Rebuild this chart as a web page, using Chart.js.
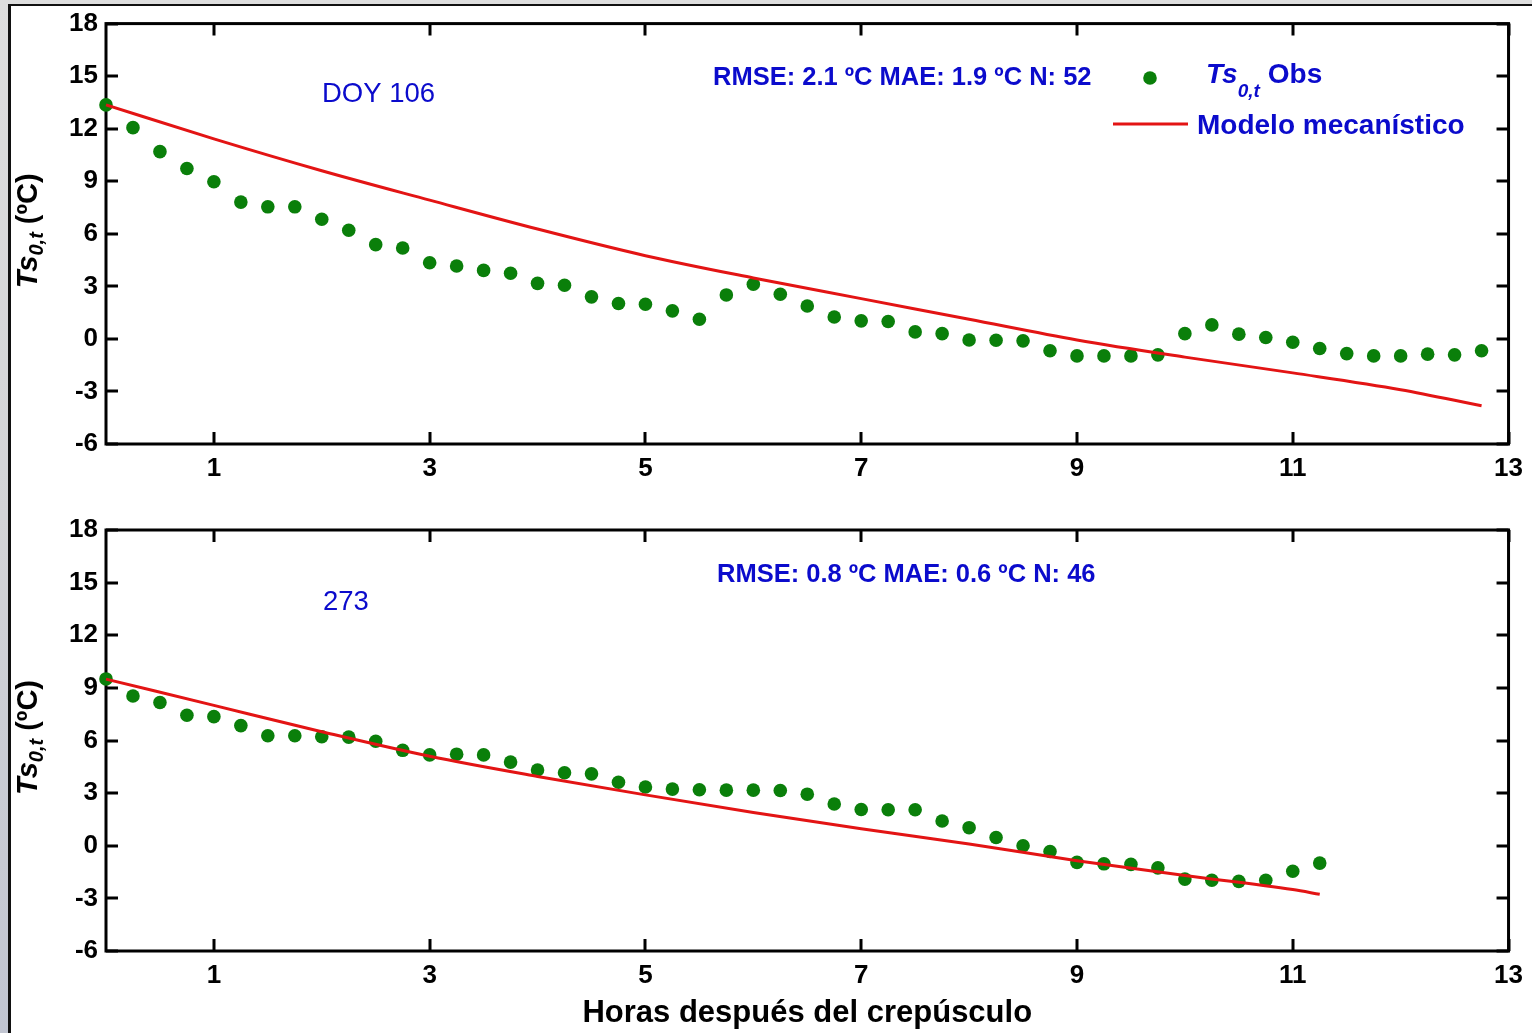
<!DOCTYPE html>
<html><head><meta charset="utf-8">
<script src="https://cdn.jsdelivr.net/npm/chart.js@4.4.1/dist/chart.umd.min.js"></script>
<style>
html,body{margin:0;padding:0;}
body{width:1532px;height:1033px;overflow:hidden;position:relative;background:linear-gradient(180deg,#dedede 0%,#d3d4d7 50%,#c1c5d1 100%);}
#frame{position:absolute;left:8px;top:4px;right:0;bottom:0;background:#fff;border-left:3px solid #111;border-top:2px solid #111;}
#w1{position:absolute;left:0;top:0;width:1532px;height:500px;}
#w2{position:absolute;left:0;top:500px;width:1532px;height:533px;}
canvas{display:block;}
</style></head><body>
<div id="frame"></div>
<div id="w1"><canvas id="c1" width="1532" height="500" style="width:1532px;height:500px"></canvas></div>
<div id="w2"><canvas id="c2" width="1532" height="533" style="width:1532px;height:533px"></canvas></div>
<script>
// ---------- DATA ----------
const xTickValues = [1, 3, 5, 7, 9, 11, 13];
const yTickValues = [-6, -3, 0, 3, 6, 9, 12, 15, 18];

// Panel 1 (DOY 106)
const obsHours106 = [0,0.25,0.5,0.75,1,1.25,1.5,1.75,2,2.25,2.5,2.75,3,3.25,3.5,3.75,4,4.25,4.5,4.75,5,5.25,5.5,5.75,6,6.25,6.5,6.75,7,7.25,7.5,7.75,8,8.25,8.5,8.75,9,9.25,9.5,9.75,10,10.25,10.5,10.75,11,11.25,11.5,11.75,12,12.25,12.5,12.75];
const obsTemp106 = [13.36,12.06,10.69,9.73,8.97,7.81,7.54,7.54,6.83,6.2,5.38,5.19,4.35,4.16,3.91,3.75,3.17,3.06,2.4,2.02,1.98,1.6,1.12,2.51,3.12,2.55,1.88,1.25,1.03,0.99,0.4,0.3,-0.06,-0.08,-0.11,-0.68,-0.97,-0.97,-0.97,-0.91,0.3,0.8,0.27,0.08,-0.19,-0.55,-0.84,-0.97,-0.97,-0.87,-0.91,-0.68];
const modelHours106 = [0,1,2,3,4,5,6,7,8,9,10,11,12,12.75];
const modelTemp106 = [13.36,11.42,9.6,7.92,6.27,4.75,3.48,2.3,1.12,-0.06,-1.04,-1.94,-2.9,-3.82];

// Panel 2 (273)
const obsHours273 = [0,0.25,0.5,0.75,1,1.25,1.5,1.75,2,2.25,2.5,2.75,3,3.25,3.5,3.75,4,4.25,4.5,4.75,5,5.25,5.5,5.75,6,6.25,6.5,6.75,7,7.25,7.5,7.75,8,8.25,8.5,8.75,9,9.25,9.5,9.75,10,10.25,10.5,10.75,11,11.25];
const obsTemp273 = [9.51,8.54,8.17,7.44,7.36,6.85,6.27,6.27,6.21,6.19,5.96,5.44,5.18,5.22,5.18,4.77,4.32,4.16,4.1,3.62,3.35,3.23,3.19,3.17,3.17,3.15,2.94,2.38,2.07,2.05,2.05,1.41,1.03,0.47,0,-0.33,-0.95,-1.03,-1.06,-1.26,-1.9,-1.97,-2.03,-1.97,-1.45,-0.99];
const modelHours273 = [0,1,2,3,4,5,6,7,8,9,10,11,11.25];
const modelTemp273 = [9.5,8.0,6.5,5.1,3.95,2.9,1.9,0.97,0.1,-0.85,-1.7,-2.5,-2.77];

const panelLabels = ["DOY 106", "273"];
const statsLabels = ["RMSE: 2.1 ºC MAE: 1.9 ºC N: 52", "RMSE: 0.8 ºC MAE: 0.6 ºC N: 46"];
const legendObs = ["Ts", "0,t", "Obs"];
const legendModel = "Modelo mecanístico";
const yTitleParts = ["Ts", "0,t", " (ºC)"];
const xTitle = "Horas después del crepúsculo";

// ---------- STYLE ----------
const F = '"Liberation Sans", Arial, Helvetica, sans-serif';
const GREEN = '#0a7f0a';
const RED = '#e31414';
const BLUE = '#0b0bcc';

function pts(xs, ys){ return xs.map((x,i)=>({x:x, y:ys[i]})); }

function drawRich(ctx, parts, x, y){
  let cx = x;
  parts.forEach(p=>{ ctx.font = p.font; ctx.fillText(p.t, cx, y + (p.dy||0)); cx += ctx.measureText(p.t).width + (p.gap||0); });
}
function richWidth(ctx, parts){
  let w = 0;
  parts.forEach(p=>{ ctx.font = p.font; w += ctx.measureText(p.t).width + (p.gap||0); });
  return w;
}

const framePlugin = {
  id: 'frameTicks',
  beforeDatasetsDraw(chart){
    const ctx = chart.ctx, a = chart.chartArea;
    const xs = chart.scales.x, ys = chart.scales.y;
    ctx.save();
    ctx.strokeStyle = '#000';
    ctx.lineWidth = 3;
    ctx.lineCap = 'butt';
    ctx.strokeRect(a.left, a.top, a.right - a.left, a.bottom - a.top);
    const L = 12;
    ctx.beginPath();
    xTickValues.forEach(v=>{
      const px = Math.round(xs.getPixelForValue(v));
      ctx.moveTo(px, a.bottom); ctx.lineTo(px, a.bottom - L);
      ctx.moveTo(px, a.top); ctx.lineTo(px, a.top + L);
    });
    yTickValues.forEach(v=>{
      const py = Math.round(ys.getPixelForValue(v));
      ctx.moveTo(a.left, py); ctx.lineTo(a.left + L, py);
      ctx.moveTo(a.right, py); ctx.lineTo(a.right - L, py);
    });
    ctx.stroke();
    ctx.restore();
  },
  afterDraw(chart){
    const ctx = chart.ctx, a = chart.chartArea;
    const o = chart.options.plugins.frameTicks;
    ctx.save();
    ctx.textBaseline = 'alphabetic';
    ctx.textAlign = 'left';
    // y title (rotated)
    ctx.fillStyle = '#000';
    const yparts = [
      {t: yTitleParts[0], font: 'italic bold 29px ' + F},
      {t: yTitleParts[1], font: 'italic bold 20px ' + F, dy: 6},
      {t: yTitleParts[2], font: 'bold 29px ' + F}
    ];
    const w = richWidth(ctx, yparts);
    ctx.save();
    ctx.translate(37, (a.top + a.bottom) / 2 - 3);
    ctx.rotate(-Math.PI / 2);
    drawRich(ctx, yparts, -w / 2, 0);
    ctx.restore();
    // panel label
    ctx.fillStyle = BLUE;
    ctx.font = '27.5px ' + F;
    ctx.fillText(o.label, o.labelX, o.labelY);
    // stats
    ctx.font = 'bold 25.5px ' + F;
    ctx.fillText(o.stats, o.statsX, o.statsY);
    if (o.legend) {
      // obs marker
      ctx.fillStyle = GREEN;
      ctx.beginPath(); ctx.arc(1150, 78, 6.8, 0, Math.PI * 2); ctx.fill();
      ctx.fillStyle = BLUE;
      drawRich(ctx, [
        {t: legendObs[0], font: 'italic bold 28px ' + F},
        {t: legendObs[1], font: 'italic bold 19px ' + F, dy: 14, gap: 8},
        {t: legendObs[2], font: 'bold 28px ' + F}
      ], 1206, 83);
      ctx.strokeStyle = RED; ctx.lineWidth = 3;
      ctx.beginPath(); ctx.moveTo(1113, 124); ctx.lineTo(1188, 124); ctx.stroke();
      ctx.font = 'bold 28px ' + F;
      ctx.fillText(legendModel, 1197, 134);
    }
    ctx.restore();
  }
};

function makeChart(canvasId, obsX, obsY, modX, modY, opts){
  const tickFont = {family: F, size: 26, weight: 'bold'};
  return new Chart(document.getElementById(canvasId), {
    type: 'scatter',
    data: {
      datasets: [
        {label: legendModel, data: pts(modX, modY), showLine: true, borderColor: RED, borderWidth: 3,
         pointRadius: 0, pointHoverRadius: 0, fill: false, tension: 0, cubicInterpolationMode: 'monotone', clip: false},
        {label: 'Ts0,t Obs', data: pts(obsX, obsY), showLine: false, backgroundColor: GREEN, borderColor: GREEN,
         borderWidth: 0, pointRadius: 6.8, pointHoverRadius: 6.8, clip: false}
      ]
    },
    options: {
      responsive: false,
      animation: false,
      events: [],
      layout: {padding: {top: opts.padTop, right: 23, bottom: 0, left: 0}},
      plugins: {
        legend: {display: false},
        tooltip: {enabled: false},
        frameTicks: opts.annot
      },
      scales: {
        x: {
          type: 'linear', position: 'bottom', min: 0, max: 13,
          afterBuildTicks: s => { s.ticks = xTickValues.map(v => ({value: v})); },
          grid: {display: false, drawTicks: false},
          border: {display: false},
          ticks: {color: '#000', font: tickFont, padding: 9, maxRotation: 0, autoSkip: false},
          title: opts.xTitle ? {display: true, text: xTitle, color: '#000', font: {family: F, size: 31, weight: 'bold'}, padding: {top: 0, bottom: 1}} : {display: false},
          afterFit: s => { s.height = opts.xHeight; }
        },
        y: {
          type: 'linear', position: 'left', min: -6, max: 18,
          afterBuildTicks: s => { s.ticks = yTickValues.map(v => ({value: v})); },
          grid: {display: false, drawTicks: false},
          border: {display: false},
          ticks: {color: '#000', font: tickFont, padding: 8, autoSkip: false},
          afterFit: s => { s.width = 106; }
        }
      }
    },
    plugins: [framePlugin]
  });
}

makeChart('c1', obsHours106, obsTemp106, modelHours106, modelTemp106, {
  padTop: 22, xHeight: 56, xTitle: false,
  annot: {label: panelLabels[0], labelX: 322, labelY: 102, stats: statsLabels[0], statsX: 713, statsY: 85, legend: true}
});
makeChart('c2', obsHours273, obsTemp273, modelHours273, modelTemp273, {
  padTop: 30, xHeight: 82, xTitle: true,
  annot: {label: panelLabels[1], labelX: 323, labelY: 110, stats: statsLabels[1], statsX: 717, statsY: 82, legend: false}
});
</script></body></html>
